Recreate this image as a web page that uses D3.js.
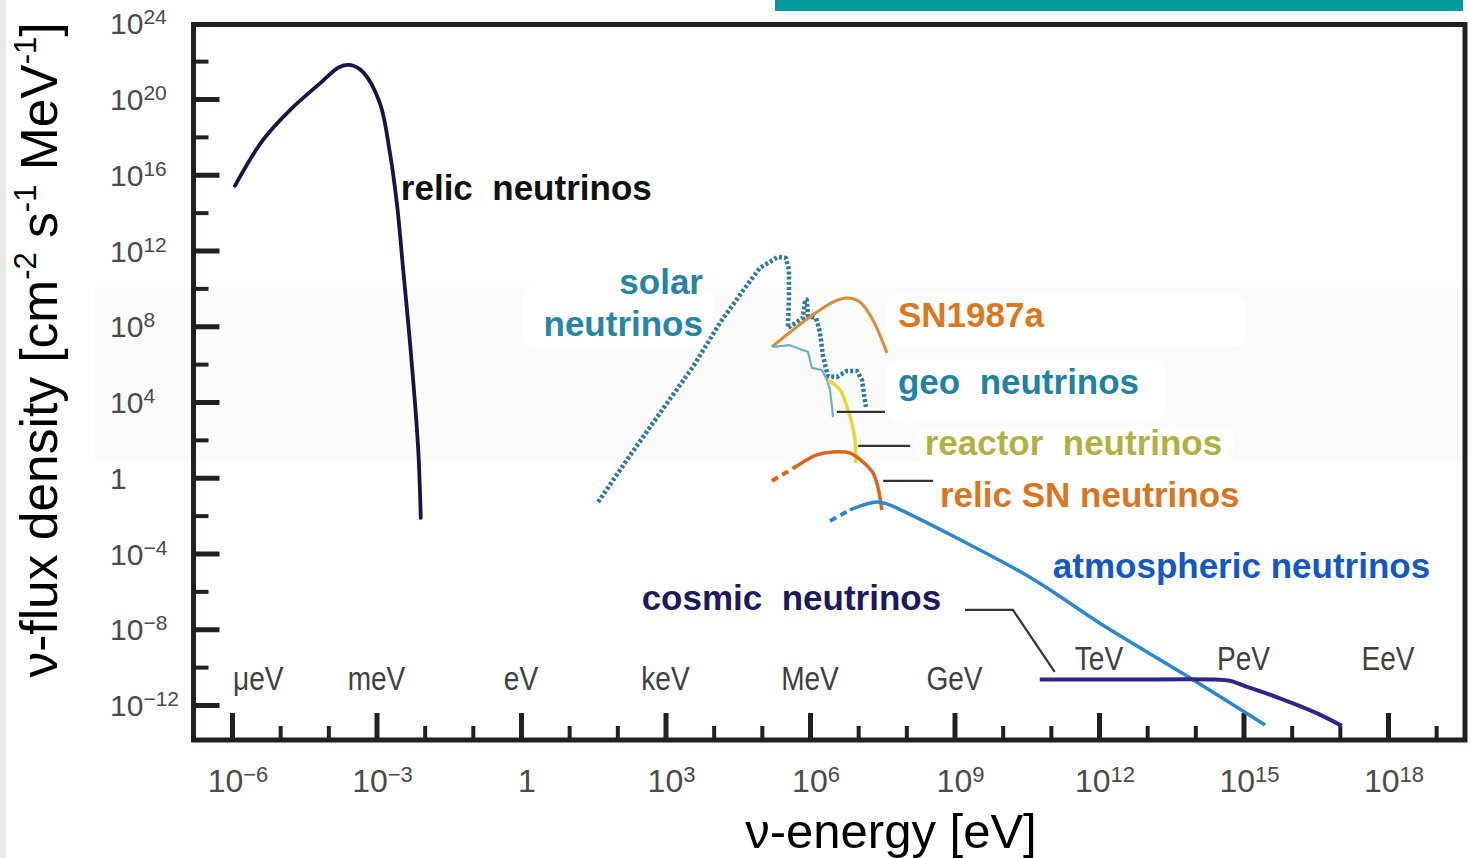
<!DOCTYPE html>
<html>
<head>
<meta charset="utf-8">
<title>Neutrino flux spectrum</title>
<script src="https://cdn.jsdelivr.net/npm/d3@7"></script>
<style>
  html, body { margin: 0; padding: 0; background: #fff; }
  svg { display: block; }
  text { white-space: pre; }
</style>
</head>
<body>
<svg id="chart" width="1471" height="858"></svg>
<script>
// Neutrino flux density [cm^-2 s^-1 MeV^-1] versus neutrino energy [eV]
// Each series is a list of [energy (eV), flux] pairs.

const relicNeutrinos = [
  [1.15e-6, 2.6e15], [4.4e-6, 6.9e17], [1.6e-5, 2.6e19], [6.8e-5, 6.9e20],
  [1.7e-4, 4.9e21], [2.8e-4, 6.3e21], [5.2e-4, 2.7e21], [1.17e-3, 6.2e19],
  [1.9e-3, 1.4e17], [2.7e-3, 2.0e14], [3.55e-3, 1.2e11], [4.84e-3, 2.7e7],
  [6.3e-3, 8.9e3], [7.45e-3, 16], [8.3e-3, 7.6e-3]
];

const solarNeutrinos = [
  [40, 5.2e-2], [158, 8.7], [767, 2.6e3], [3.7e3, 7.1e5], [1.35e4, 1.5e8],
  [3.9e4, 6.5e9], [9.1e4, 1.2e11], [2.16e5, 4.6e11], [3.16e5, 4.0e11],
  [3.66e5, 9.3e10], [3.66e5, 2.5e9], [3.47e5, 8.1e7], [5.37e5, 1.7e8],
  [7.1e5, 2.75e8], [7.9e5, 2.5e9], [8.6e5, 2.5e9], [9.1e5, 3.5e8],
  [1.33e6, 2.75e8], [1.61e6, 5.0e7], [1.86e6, 2.7e6], [2.36e6, 2.3e5],
  [3.63e6, 2.1e5], [5.85e6, 4.4e5], [9.4e6, 4.4e5], [1.2e7, 1.45e5],
  [1.45e7, 5.5e3]
];

const sn1987a = [
  [1.62e5, 8.1e6], [4.4e5, 6.3e7], [1.15e6, 4.0e8], [3.0e6, 1.9e9],
  [5.85e6, 3.1e9], [1.09e7, 1.9e9], [2.03e7, 2.1e8], [3.96e7, 3.9e6]
];

const geoNeutrinos = [
  [1.7e5, 8.1e6], [3.84e5, 1.0e7], [9.1e5, 4.4e6], [1.1e6, 6.3e5],
  [1.77e6, 4.9e5], [2.25e6, 1.45e5], [2.6e6, 4.4e4], [2.86e6, 5.5e3],
  [3.0e6, 1.6e3]
];

const reactorNeutrinos = [
  [2.36e6, 1.45e5], [4.2e6, 4.4e4], [5.85e6, 5.5e3], [7.4e6, 7.8e2],
  [8.6e6, 100], [8.9e6, 6.0]
];

const relicSNTail = [[1.62e5, 0.68], [5.37e5, 4.2]];
const relicSNNeutrinos = [
  [5.37e5, 4.2], [1.39e6, 16], [3.0e6, 23], [6.76e6, 20], [1.26e7, 6.8],
  [2.03e7, 1.8], [2.57e7, 0.32], [3.1e7, 0.02]
];

const atmosphericTail = [[2.6e6, 5.2e-3], [6.76e6, 2.0e-2]];
const atmosphericNeutrinos = [
  [6.76e6, 2.0e-2], [1.26e7, 3.6e-2], [2.45e7, 5.2e-2], [3.96e7, 4.2e-2],
  [1.03e8, 1.4e-2], [1.02e9, 7.4e-4], [3.9e10, 5.1e-6], [1.39e12, 1.3e-8],
  [5.3e13, 4.9e-11], [2.8e15, 8.9e-14]
];

const cosmicNeutrinos = [
  [5.9e10, 2.2e-11], [2.7e12, 2.2e-11], [2.55e14, 2.2e-11], [5.2e14, 1.9e-11],
  [1.07e15, 1.0e-11], [4.7e15, 2.7e-12], [2.9e16, 4.3e-13], [1.1e17, 7.9e-14]
];

// Leader lines from curves to their labels, [energy, flux]
const geoLeader = [[3.6e6, 3.0e3], [3.6e7, 3.0e3]];
const reactorLeader = [[1.0e7, 48], [1.2e8, 48]];
const relicSNLeader = [[3.3e7, 0.68], [3.6e8, 0.68]];
const cosmicLeader = [[1.65e9, 1.05e-7], [1.63e10, 1.05e-7], [1.2e11, 5.6e-11]];

// Axis ticks (powers of ten)
const xMajorExponents = [-6, -3, 0, 3, 6, 9, 12, 15, 18];
const xMinorExponents = [-5, -4, -2, -1, 1, 2, 4, 5, 7, 8, 10, 11, 13, 14, 16, 17, 19];
const yMajorExponents = [20, 16, 12, 8, 4, 0, -4, -8, -12];
const yMinorExponents = [22, 18, 14, 10, 6, 2, -2, -6, -10];
const yLabelExponents = [24, 20, 16, 12, 8, 4, 0, -4, -8, -12];

// Energy unit names along the bottom
const unitNames = ["μeV", "meV", "eV", "keV", "MeV", "GeV", "TeV", "PeV", "EeV"];
const unitEnergies = [3.5e-6, 1e-3, 1, 1e3, 1e6, 1e9, 1e12, 1e15, 1e18];

// ---------------------------------------------------------------------------
const svg = d3.select("#chart");
const W = 1471, H = 858;
const frame = { left: 193.5, right: 1465, top: 24.5, bottom: 740 };

const x = d3.scaleLog().domain([1e-6, 1e18]).range([232, 1388]);
const y = d3.scaleLog().domain([1e-12, 1e20]).range([705, 99]);

const axisColor = "#231f20";
const sans = "'Liberation Sans', Arial, sans-serif";

// page background pieces
svg.append("rect").attr("width", W).attr("height", H).attr("fill", "#fff");
svg.append("rect").attr("x", 0).attr("y", 0).attr("width", 6).attr("height", H).attr("fill", "#e8e8e8");
svg.append("rect").attr("x", 775).attr("y", 0).attr("width", 688).attr("height", 11).attr("fill", "#009a9a");

// very faint panel behind the middle band, with white label boxes
svg.append("rect").attr("x", 95).attr("y", 287).attr("width", W - 95).attr("height", 175).attr("fill", "#fbfbfb");
const boxes = [[522, 287, 192, 62], [886, 292, 360, 55], [886, 360, 280, 62], [915, 428, 320, 34]];
svg.append("g").selectAll("rect").data(boxes).join("rect")
  .attr("x", d => d[0]).attr("y", d => d[1]).attr("width", d => d[2]).attr("height", d => d[3])
  .attr("rx", 14).attr("fill", "#fff");

// ---- axes ----
const pow10 = e => Math.pow(10, e);

function styleTicks(g, width) {
  g.select(".domain").remove();
  g.selectAll(".tick text").remove();
  g.selectAll(".tick line").attr("stroke", axisColor).attr("stroke-width", width);
}

svg.append("g").attr("transform", `translate(${frame.left},0)`)
  .call(d3.axisRight(y).tickValues(yMajorExponents.map(pow10)).tickSize(26).tickFormat(""))
  .call(styleTicks, 5);
svg.append("g").attr("transform", `translate(${frame.left},0)`)
  .call(d3.axisRight(y).tickValues(yMinorExponents.map(pow10)).tickSize(15).tickFormat(""))
  .call(styleTicks, 4);
svg.append("g").attr("transform", `translate(0,${frame.bottom})`)
  .call(d3.axisTop(x).tickValues(xMajorExponents.map(pow10)).tickSize(27).tickFormat(""))
  .call(styleTicks, 5);
svg.append("g").attr("transform", `translate(0,${frame.bottom})`)
  .call(d3.axisTop(x).tickValues(xMinorExponents.map(pow10)).tickSize(14).tickFormat(""))
  .call(styleTicks, 4);

// frame
svg.append("rect")
  .attr("x", frame.left).attr("y", frame.top)
  .attr("width", frame.right - frame.left).attr("height", frame.bottom - frame.top)
  .attr("fill", "none").attr("stroke", axisColor).attr("stroke-width", 5);

// power-of-ten tick labels
function powerLabel(text, exp, supSize, rise) {
  if (exp === 0) { text.append("tspan").text("1"); return; }
  text.append("tspan").text("10");
  text.append("tspan").attr("font-size", supSize).attr("dy", -rise)
    .text(exp < 0 ? "\u2212" + (-exp) : String(exp));
}

const yLabels = svg.append("g").attr("font-family", sans).attr("font-size", 30).attr("fill", "#4a4a4a");
yLabelExponents.forEach(e => {
  const t = yLabels.append("text").attr("x", 110).attr("y", y(pow10(e)) + 11);
  powerLabel(t, e, 21, 10);
});

const xLabels = svg.append("g").attr("font-family", sans).attr("font-size", 32)
  .attr("fill", "#4a4a4a").attr("text-anchor", "middle");
xMajorExponents.forEach(e => {
  const t = xLabels.append("text").attr("x", x(pow10(e)) + 6).attr("y", 792);
  powerLabel(t, e, 22, 10);
});

// energy unit names (condensed)
svg.append("g").attr("font-family", sans).attr("font-size", 33)
  .attr("fill", "#404040").attr("text-anchor", "middle")
  .selectAll("text").data(unitNames).join("text")
  .attr("transform", (d, i) => {
    const ty = unitEnergies[i] >= 1e12 ? frame.bottom - 70 : frame.bottom - 50;
    return `translate(${x(unitEnergies[i])},${ty}) scale(0.85,1)`;
  })
  .text(d => d);

// axis titles
const yTitle = svg.append("text")
  .attr("transform", `translate(57,350) rotate(-90)`)
  .attr("text-anchor", "middle").attr("font-family", sans).attr("font-size", 51.5).attr("fill", "#000");
yTitle.append("tspan").text("ν-flux density [cm");
yTitle.append("tspan").attr("font-size", 31).attr("dy", -21).text("-2");
yTitle.append("tspan").attr("dy", 21).text(" s");
yTitle.append("tspan").attr("font-size", 31).attr("dy", -21).text("-1");
yTitle.append("tspan").attr("dy", 21).text(" MeV");
yTitle.append("tspan").attr("font-size", 31).attr("dy", -21).text("-1");
yTitle.append("tspan").attr("dy", 21).text("]");

svg.append("text").attr("x", 891).attr("y", 848).attr("text-anchor", "middle")
  .attr("font-family", sans).attr("font-size", 49).attr("fill", "#000")
  .text("ν-energy [eV]");

// ---- curves ----
const smooth = d3.line().x(d => x(d[0])).y(d => y(d[1])).curve(d3.curveCatmullRom.alpha(0.5));
const straight = d3.line().x(d => x(d[0])).y(d => y(d[1]));
const curves = svg.append("g").attr("fill", "none").attr("stroke-linecap", "butt").attr("stroke-linejoin", "round");

curves.append("path").attr("d", smooth(relicNeutrinos))
  .attr("stroke", "#1d1248").attr("stroke-width", 3.8).attr("stroke-linecap", "round");

curves.append("path").attr("d", straight(solarNeutrinos))
  .attr("stroke", "#2f7b96").attr("stroke-width", 4.5).attr("stroke-dasharray", "3,2.2");

curves.append("path").attr("d", smooth(sn1987a))
  .attr("stroke", "#d98c3a").attr("stroke-width", 3);

curves.append("path").attr("d", straight(geoNeutrinos))
  .attr("stroke", "#6ab4bf").attr("stroke-width", 2.2);

curves.append("path").attr("d", smooth(reactorNeutrinos))
  .attr("stroke", "#e3d93a").attr("stroke-width", 3.5);

curves.append("path").attr("d", straight(relicSNTail))
  .attr("stroke", "#d9661c").attr("stroke-width", 4).attr("stroke-dasharray", "7,5");
curves.append("path").attr("d", smooth(relicSNNeutrinos))
  .attr("stroke", "#d9661c").attr("stroke-width", 3.5);

curves.append("path").attr("d", straight(atmosphericTail))
  .attr("stroke", "#2b88cc").attr("stroke-width", 4).attr("stroke-dasharray", "7,5");
curves.append("path").attr("d", smooth(atmosphericNeutrinos))
  .attr("stroke", "#2b88cc").attr("stroke-width", 3.5);

curves.append("path").attr("d", smooth(cosmicNeutrinos))
  .attr("stroke", "#2d2684").attr("stroke-width", 4);

// leader lines
[geoLeader, reactorLeader, relicSNLeader, cosmicLeader].forEach(l => {
  curves.append("path").attr("d", straight(l)).attr("stroke", "#333").attr("stroke-width", 2.2);
});

// ---- series labels ----
const seriesLabels = [
  { text: "relic  neutrinos", at: [3.2e-3, 4.7e14], anchor: "start", color: "#111111" },
  { text: "solar", at: [6.0e3, 5.0e9], anchor: "end", color: "#2785a3" },
  { text: "neutrinos", at: [6.0e3, 3.1e7], anchor: "end", color: "#2785a3" },
  { text: "SN1987a", at: [6.7e7, 9.1e7], anchor: "start", color: "#d8781f" },
  { text: "geo  neutrinos", at: [6.7e7, 2.6e4], anchor: "start", color: "#1f82a0" },
  { text: "reactor  neutrinos", at: [2.4e8, 16], anchor: "start", color: "#b3b043" },
  { text: "relic SN neutrinos", at: [5.0e8, 2.9e-2], anchor: "start", color: "#d8761f" },
  { text: "atmospheric neutrinos", at: [1.1e11, 5.1e-6], anchor: "start", color: "#1458c4" },
  { text: "cosmic  neutrinos", at: [3.2e2, 1.05e-7], anchor: "start", color: "#1c1a5c" }
];

svg.append("g").attr("font-family", sans).attr("font-weight", "bold").attr("font-size", 35)
  .selectAll("text").data(seriesLabels).join("text")
  .attr("x", d => x(d.at[0])).attr("y", d => y(d.at[1]))
  .attr("text-anchor", d => d.anchor).attr("fill", d => d.color)
  .text(d => d.text);
</script>
</body>
</html>
